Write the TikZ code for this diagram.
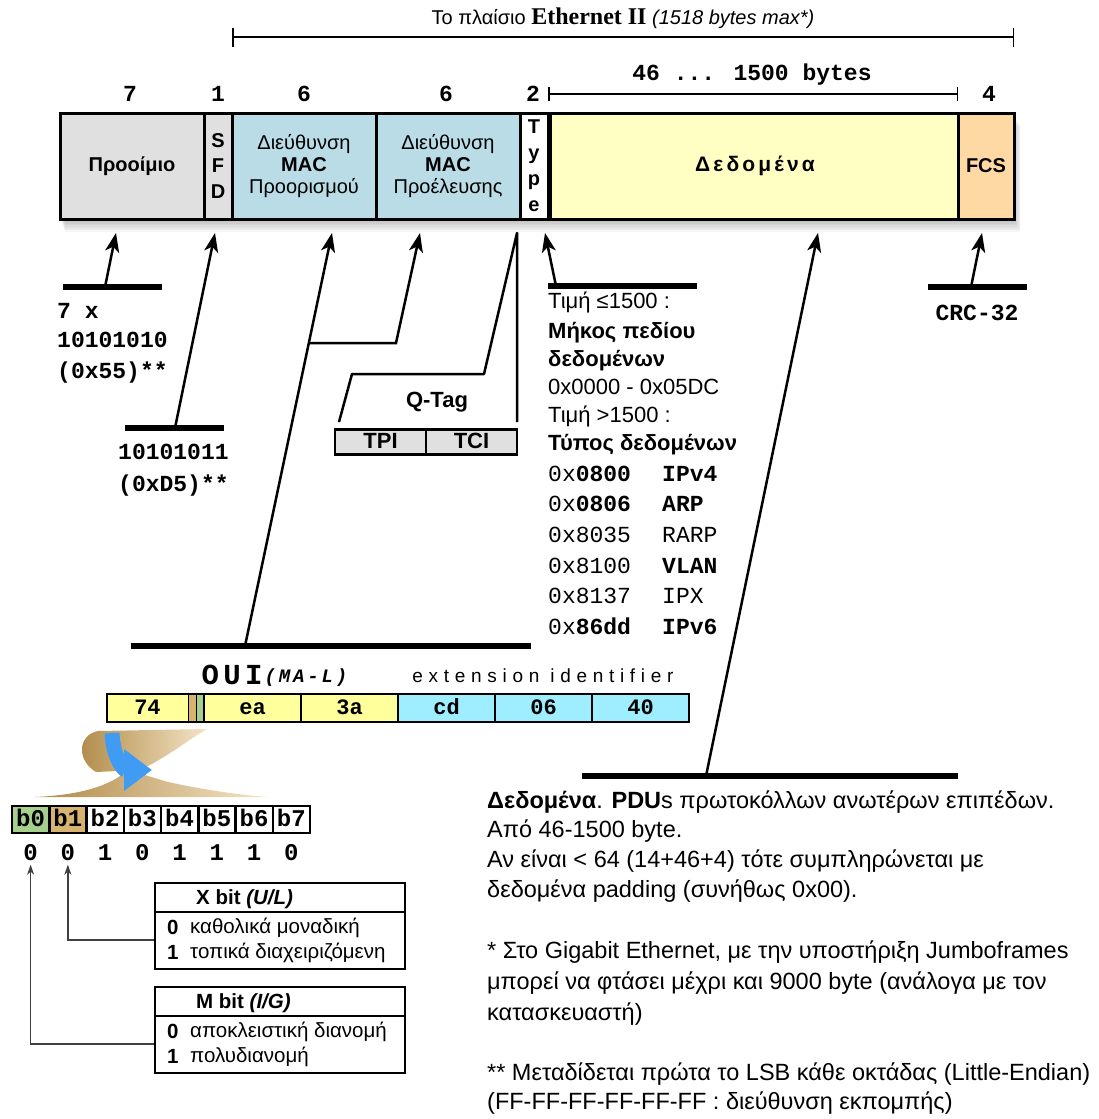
\documentclass[tikz,border=0pt]{standalone}
\usepackage{fontspec}
\setmainfont{Liberation Sans}
\newfontfamily\timesrm{Liberation Serif}
\newfontfamily\courier{Liberation Mono}
\newfontfamily\gapsans[LetterSpace=30]{Liberation Sans}
\newfontfamily\datasans[LetterSpace=15]{Liberation Sans}
\newfontfamily\gapmono[LetterSpace=15]{Liberation Mono}
\usetikzlibrary{arrows.meta}

\definecolor{pregray}{HTML}{E0E0E0}
\definecolor{macblue}{HTML}{B9DCE6}
\definecolor{datayel}{HTML}{FFFFC4}
\definecolor{fcsorange}{HTML}{FFD9A3}
\definecolor{ouiyel}{HTML}{FFFF9C}
\definecolor{extcyan}{HTML}{9EEEFF}
\definecolor{bit0}{HTML}{A8D08D}
\definecolor{bit1}{HTML}{D8B370}
\colorlet{bit2}{white}
\colorlet{bit3}{white}
\colorlet{bit4}{white}
\colorlet{bit5}{white}
\colorlet{bit6}{white}
\colorlet{bit7}{white}
\definecolor{curldark}{HTML}{B08A48}
\definecolor{curllight}{HTML}{F4E4C6}
\definecolor{curlblue}{HTML}{3F9CF2}

\tikzset{
  field/.style={draw, line width=3pt, inner sep=0pt, align=center, minimum height=106pt},
  stand/.style={line width=5.5pt},
  pointer/.style={line width=2.5pt, -{Stealth[length=19pt,width=14pt,inset=5pt]}},
  dimline/.style={line width=1.5pt, {Bar[width=#1]}-{Bar[width=#1]}},
  cnt/.style={font=\courier\bfseries\fontsize{23}{26}\selectfont},
  monotxt/.style={font=\courier\fontsize{23}{26}\selectfont, anchor=west, inner sep=0pt, text height=14pt, text depth=3pt},
  sanstxt/.style={font=\fontsize{22}{24}\selectfont, anchor=west, inner sep=0pt, text height=15pt, text depth=4pt},
  notetxt/.style={font=\fontsize{23.5}{26}\selectfont, anchor=west, inner sep=0pt, text height=16pt, text depth=5pt},
  boxtxt/.style={font=\fontsize{20.5}{24}\selectfont, anchor=west, inner sep=0pt, text height=14pt, text depth=4pt},
  bitlink/.style={line width=1.3pt, draw=black!75, -{Stealth[length=10pt,width=7pt,inset=3pt]}},
  infobox/.style={draw, line width=2.5pt, minimum width=250pt, minimum height=86pt},
  cell/.style={draw, line width=2.5pt, inner sep=0pt, text height=15pt, text depth=2pt,
    font=\courier\bfseries\fontsize{22}{24}\selectfont}
}

\begin{document}
\begin{tikzpicture}[x=1pt,y=-1pt]
\useasboundingbox (0,0) rectangle (1099,1119);

% title and its span
\node[font=\fontsize{20}{24}\selectfont] (title) at (623,18)
  {Το πλαίσιο {\timesrm\bfseries\fontsize{24}{26}\selectfont Ethernet II} \textit{(1518 bytes max*)}};
\coordinate (fl) at (232,37);
\coordinate (fr) at (1014,37);
\draw[dimline=19pt] (fl) -- (fr);

% byte counts above the fields
\foreach \xx/\nn in {130/7, 218/1, 304/6, 446/6, 533/2, 989/4}
  \node[cnt] (n\xx) at (\xx,94) {\nn};
\node[cnt] (payload) at (752,75) {46 ... 1500 bytes};
\coordinate (pl) at (548,94);
\coordinate (pr) at (958,94);
\draw[dimline=14pt] (pl) -- (pr);

% shadow under the frame
\foreach \i in {1,...,8}
  \fill[black, opacity=0.035] (60+\i*0.6,113+\i*1.6) rectangle (1014+\i*0.8,219+\i*1.6);

% the frame
\node[field, fill=pregray, minimum width=144pt, font=\bfseries\fontsize{20}{24}\selectfont] (pre) at (132,166) {Προοίμιο};
\node[field, fill=pregray, minimum width=28pt, font=\bfseries\fontsize{20}{25.5}\selectfont] (sfd) at (218,166) {S\\F\\D};
\node[field, fill=macblue, minimum width=144pt, font=\fontsize{20}{22}\selectfont] (dst) at (304,166) {Διεύθυνση\\\textbf{MAC}\\Προορισμού};
\node[field, fill=macblue, minimum width=144pt, font=\fontsize{20}{22}\selectfont] (src) at (448,166) {Διεύθυνση\\\textbf{MAC}\\Προέλευσης};
\node[field, fill=white, minimum width=28pt, font=\bfseries\fontsize{20}{26}\selectfont] (typ) at (534,166) {T\\y\\p\\e};
\node[field, fill=datayel, minimum width=410pt, font=\datasans\bfseries\fontsize{21}{24}\selectfont] (dat) at (755,166) {Δεδομένα};
\node[field, fill=fcsorange, minimum width=56pt, font=\bfseries\fontsize{20}{24}\selectfont] (fcs) at (986,166) {FCS};

% preamble
\draw[stand] (63,287) -- (162,287);
\coordinate (preB) at (105,287);
\coordinate (preT) at (116,233);
\draw[pointer] (preB) -- (preT);
\node[monotxt] (pre1) at (57,313) {\bfseries 7 x};
\node[monotxt] (pre2) at (57,342) {\bfseries 10101010};
\node[monotxt] (pre3) at (57,373) {\bfseries (0x55)**};

% start frame delimiter
\draw[stand] (125,428) -- (224,428);
\coordinate (sfdB) at (175,428);
\coordinate (sfdT) at (215,233);
\draw[pointer] (sfdB) -- (sfdT);
\node[monotxt] (sfd1) at (118,454) {\bfseries 10101011};
\node[monotxt] (sfd2) at (118,486) {\bfseries (0xD5)**};

% both MAC addresses -> OUI
\draw[stand] (131,646) -- (531,646);
\coordinate (dstB) at (245,646);
\coordinate (dstT) at (332,233);
\draw[pointer] (dstB) -- (dstT);
\coordinate (srcK) at (309,343);
\coordinate (srcC) at (396,343);
\coordinate (srcT) at (420,233);
\draw[pointer] (srcK) -- (srcC) -- (srcT);

% Q-Tag
\coordinate (qa) at (339,422);
\coordinate (qb) at (352,374);
\coordinate (qc) at (484,374);
\coordinate (qd) at (517,233);
\coordinate (qe) at (517,422);
\draw[line width=2.5pt, line join=round] (qa) -- (qb) -- (qc) -- (qd) -- (qe);
\node[font=\bfseries\fontsize{22}{24}\selectfont] (qtag) at (437,402) {Q-Tag};
\node[cell, fill=pregray, minimum width=91pt, minimum height=25pt, font=\bfseries\fontsize{22}{24}\selectfont] (tpi) at (380.5,442) {TPI};
\node[cell, fill=pregray, minimum width=91pt, minimum height=25pt, font=\bfseries\fontsize{22}{24}\selectfont] (tci) at (471.5,442) {TCI};

% type / length
\draw[stand] (548,286) -- (697,286);
\coordinate (typB) at (556,286);
\coordinate (typT) at (545,233);
\draw[pointer] (typB) -- (typT);
\foreach \yy/\ltext [count=\k] in {303/{Τιμή ≤1500 :}, 333/{\bfseries Μήκος πεδίου}, 361/{\bfseries δεδομένων},
    389/{0x0000 - 0x05DC}, 417/{Τιμή >1500 :}, 445/{\bfseries Τύπος δεδομένων}}
  \node[sanstxt] (tl\k) at (548,\yy) {\ltext};
\foreach \yy/\hx/\proto [count=\k] in {476/{0x\textbf{0800}}/{\textbf{IPv4}}, 506/{0x\textbf{0806}}/{\textbf{ARP}},
    537/{0x8035}/{RARP}, 568/{0x8100}/{\textbf{VLAN}}, 598/{0x8137}/{IPX}, 629/{0x\textbf{86dd}}/{\textbf{IPv6}}}
{
  \node[monotxt] (hx\k) at (548,\yy) {\hx};
  \node[monotxt] (pt\k) at (662,\yy) {\proto};
}

% data
\draw[stand] (582,776) -- (958,776);
\coordinate (datB) at (706,776);
\coordinate (datT) at (818,233);
\draw[pointer] (datB) -- (datT);

% frame check sequence
\draw[stand] (928,287) -- (1027,287);
\coordinate (fcsB) at (971,287);
\coordinate (fcsT) at (982,233);
\draw[pointer] (fcsB) -- (fcsT);
\node[cnt] (crc) at (977,313) {CRC-32};

% OUI and extension identifier
\node[font=\gapmono\bfseries\fontsize{29}{30}\selectfont] (oui) at (232,675) {OUI};
\node[font=\gapmono\bfseries\itshape\fontsize{19}{22}\selectfont] (mal) at (306,678) {(MA-L)};
\node[font=\gapsans\fontsize{19}{22}\selectfont] (ext) at (543,676) {extension identifier};

\node[cell, fill=ouiyel, minimum width=97pt, minimum height=28pt] (byte1) at (155.5,708) {};
\fill[bit1] (188,695.3) rectangle (196,720.7);
\fill[bit0] (196,695.3) rectangle (204,720.7);
\draw[line width=0.8pt] (188,695) -- (188,721) (196,695) -- (196,721);
\node[cell, draw=none, fill=none] (b74) at (147.5,708) {74};
\foreach \cx/\lb/\cl [count=\k from 2] in {252.5/ea/ouiyel, 349.5/3a/ouiyel, 446.5/cd/extcyan, 543.5/06/extcyan, 640.5/40/extcyan}
  \node[cell, fill=\cl, minimum width=97pt, minimum height=28pt] (byte\k) at (\cx,708) {\lb};

% curled band down to the bits
\shade[left color=curldark, right color=curllight] (35,797) .. controls (80,795) and (110,786) .. (128,770)
  -- (168,782) .. controls (205,790) and (240,795) .. (268,797) -- cycle;
\shade[left color=curldark, right color=curllight] (207,729) -- (98,731) .. controls (78,735) and (76,760) .. (96,772)
  -- (140,770) .. controls (166,758) and (188,740) .. (207,729) -- cycle;
\draw[line width=15pt, curlblue, -{Triangle[length=28pt,width=40pt]}] (112,733) .. controls (113,758) and (124,770) .. (152,770);

% bits of the first byte
\foreach \bb [count=\k from 0] in {0,0,1,0,1,1,1,0}
{
  \node[cell, fill=bit\k, minimum width=37.25pt, minimum height=27pt, font=\courier\bfseries\fontsize{24}{26}\selectfont] (b\k) at ({12+37.25*(\k+0.5)},819.5) {b\k};
  \node[font=\courier\bfseries\fontsize{24}{26}\selectfont] (v\k) at ({12+37.25*(\k+0.5)},853) {\bb};
}

% X bit
\node[infobox] (xbox) at (280,926) {};
\draw[line width=1.5pt] ([yshift=-30pt]xbox.north west) -- ([yshift=-30pt]xbox.north east);
\node[boxtxt, font=\bfseries\fontsize{20.5}{24}\selectfont] (xhead) at (196,899) {X bit \textit{(U/L)}};
\node[boxtxt, font=\bfseries\fontsize{20.5}{24}\selectfont] (x0) at (167,929) {0};
\node[boxtxt] (x0t) at (190,928) {καθολικά μοναδική};
\node[boxtxt, font=\bfseries\fontsize{20.5}{24}\selectfont] (x1) at (167,954) {1};
\node[boxtxt] (x1t) at (190,953) {τοπικά διαχειριζόμενη};

% M bit
\node[infobox] (mbox) at (280,1030) {};
\draw[line width=1.5pt] ([yshift=-30pt]mbox.north west) -- ([yshift=-30pt]mbox.north east);
\node[boxtxt, font=\bfseries\fontsize{20.5}{24}\selectfont] (mhead) at (196,1003) {M bit \textit{(I/G)}};
\node[boxtxt, font=\bfseries\fontsize{20.5}{24}\selectfont] (m0) at (167,1033) {0};
\node[boxtxt] (m0t) at (190,1032) {αποκλειστική διανομή};
\node[boxtxt, font=\bfseries\fontsize{20.5}{24}\selectfont] (m1) at (167,1058) {1};
\node[boxtxt] (m1t) at (190,1057) {πολυδιανομή};

\draw[bitlink] ([yshift=-14pt]xbox.west) -| (v1.south);
\draw[bitlink] ([yshift=-14pt]mbox.west) -| (v0.south);

% notes
\foreach \yy/\ltext [count=\k] in {803/{\textbf{Δεδομένα}. \textbf{PDU}s πρωτοκόλλων ανωτέρων επιπέδων.},
    832/{Από 46-1500 byte.}, 862/{Αν είναι < 64 (14+46+4) τότε συμπληρώνεται με},
    892/{δεδομένα padding (συνήθως 0x00).},
    953/{* Στο Gigabit Ethernet, με την υποστήριξη Jumboframes},
    984/{μπορεί να φτάσει μέχρι και 9000 byte (ανάλογα με τον}, 1015/{κατασκευαστή)},
    1075/{** Μεταδίδεται πρώτα το LSB κάθε οκτάδας (Little-Endian)},
    1104/{(FF-FF-FF-FF-FF-FF : διεύθυνση εκπομπής)}}
  \node[notetxt] (note\k) at (487,\yy) {\ltext};
\end{tikzpicture}
\end{document}
